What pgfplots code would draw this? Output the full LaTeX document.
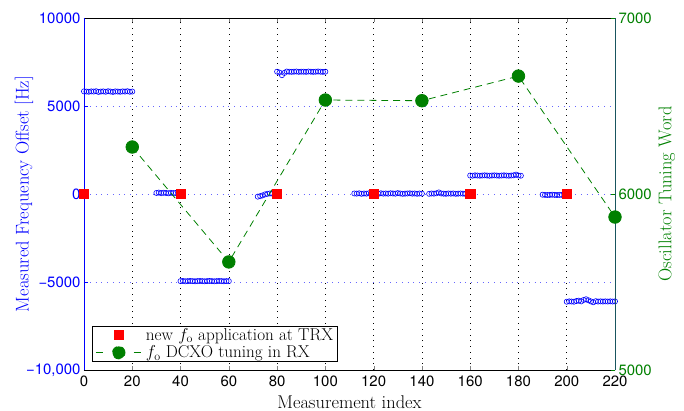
\documentclass[border=0pt]{standalone}
\usepackage{fontspec}
\newfontfamily\hel{TeX Gyre Heros}
\usepackage{pgfplots}
\pgfplotsset{compat=1.18}
\usetikzlibrary{calc}
\definecolor{mblue}{RGB}{0,0,255}
\definecolor{mgreen}{RGB}{0,128,0}
\definecolor{mred}{RGB}{255,0,0}
\definecolor{raxis}{RGB}{25,85,95}

% measured offsets (Hz), one row per measurement
\pgfplotstableread{
x y
0 5830
1 5820
2 5810
3 5830
4 5820
5 5840
6 5800
7 5820
8 5830
9 5810
10 5840
11 5820
12 5800
13 5830
14 5820
15 5810
16 5830
17 5820
18 5840
19 5810
20 5820
30 60
31 80
32 50
33 70
34 60
35 40
36 70
37 50
38 60
40 -4950
41 -4940
42 -4960
43 -4950
44 -4940
45 -4950
46 -4960
47 -4950
48 -4940
49 -4950
50 -4960
51 -4950
52 -4940
53 -4950
54 -4960
55 -4950
56 -4940
57 -4950
58 -4960
59 -4950
60 -4950
72 -150
73 -120
74 -80
75 -20
76 10
77 30
78 20
80 6950
81 6900
82 6750
83 6880
84 6960
85 6950
86 6940
87 6950
88 6960
89 6940
90 6950
91 6950
92 6940
93 6960
94 6950
95 6940
96 6950
97 6960
98 6950
99 6940
100 6950
112 30
113 20
114 40
115 10
116 30
117 20
118 40
119 30
120 20
121 30
122 10
123 40
124 20
125 30
126 20
127 40
128 30
129 20
130 50
131 30
132 10
133 20
134 30
135 40
136 20
137 30
138 10
139 30
140 20
143 10
144 30
145 20
146 40
147 90
148 30
149 20
150 10
151 30
152 20
153 30
154 10
155 20
156 30
157 20
158 10
160 1050
161 1040
162 1060
163 1050
164 1040
165 1050
166 1060
167 1050
168 1040
169 1050
170 1060
171 1050
172 1040
173 1050
174 1060
175 1050
176 1040
177 1050
178 1060
179 1100
180 1050
181 1040
190 -40
191 -50
192 -60
193 -50
194 -40
195 -50
196 -60
197 -50
198 -50
200 -6120
201 -6100
202 -6110
203 -6120
204 -6080
205 -6060
206 -6100
207 -6020
208 -5980
209 -6040
210 -6100
211 -6150
212 -6090
213 -6110
214 -6100
215 -6110
216 -6100
217 -6110
218 -6100
219 -6110
220 -6100
}\offsets

\begin{document}
\begin{tikzpicture}
\begin{axis}[
  name=main,
  scale only axis, width=531bp, height=352bp,
  xmin=0, xmax=220, ymin=-10000, ymax=10000,
  axis y line*=left,
  scaled y ticks=false,
  xtick={0,20,...,220},
  ytick={-10000,-5000,0,5000,10000},
  yticklabels={{−10,000},{−5000},0,5000,10000},
  /pgf/number format/assume math mode=true,
  tick label style={font=\fontsize{15}{17}\hel},
  xticklabel style={yshift=-2pt},
  yticklabel style={text=mblue},
  tick align=inside, major tick length=4bp,
  y axis line style={draw=mblue, line width=1pt},
  ytick style={draw=mblue},
  x axis line style={line width=0.8pt},
  xmajorgrids, ymajorgrids,
  x grid style={black, line width=0.6pt, dash pattern=on 0.8pt off 5pt},
  y grid style={mblue!60, line width=0.8pt, dash pattern=on 0.8pt off 5pt},
  xlabel={Measurement index},
  ylabel={Measured Frequency Offset [Hz]},
  label style={font=\fontsize{18.5}{22}\selectfont},
  xlabel style={yshift=-3pt},
  ylabel style={text=mblue, yshift=-14pt},
  clip=false,
]
\addplot[only marks, mark=o, mark size=2.6pt, mblue, line width=0.6pt] table {\offsets};
\addplot[only marks, mark=square*, mark size=4.6pt, mred] coordinates {
  (0,0) (40,0) (80,0) (120,0) (160,0) (200,0)
};
\end{axis}
\begin{axis}[
  scale only axis, width=531bp, height=352bp,
  xmin=0, xmax=220, ymin=5000, ymax=7000,
  axis x line=none,
  axis y line*=right,
  scaled y ticks=false,
  ytick={5000,6000,7000},
  yticklabels={5000,6000,7000},
  tick label style={font=\fontsize{15}{17}\hel},
  yticklabel style={text=mgreen},
  tick align=inside, major tick length=4bp,
  y axis line style={draw=raxis, line width=1pt},
  ytick style={draw=mgreen},
  ylabel={Oscillator Tuning Word},
  label style={font=\fontsize{18.5}{22}\selectfont},
  ylabel style={text=mgreen},
  legend style={at={(0.015,0.022)}, anchor=south west, draw=black, line width=0.8pt,
    font=\fontsize{17.2}{19}\selectfont, inner xsep=3pt, inner ysep=1.5pt, row sep=2pt,
    nodes={inner sep=1pt}},
  legend cell align=left,
  clip=false,
]
\addlegendimage{legend image code/.code={
  \fill[mred] (22.5pt,-4.6pt) rectangle (31.7pt,4.6pt);
  \path (52pt,0);}}
\addlegendentry{new $f_\mathrm{o}$ application at TRX}
\addplot[mgreen, line width=0.8pt, dash pattern=on 7pt off 5pt,
  mark=*, mark size=6.3pt, mark options={solid},
  legend image code/.code={
    \draw[mgreen, line width=0.8pt] (4pt,0) -- (12pt,0);
    \draw[mgreen, line width=0.8pt] (42pt,0) -- (50pt,0);
    \fill[mgreen] (27.1pt,0) circle (6.3pt);
    \path (53pt,0);}] coordinates {
  (20,6267) (60,5614) (100,6534) (140,6530) (180,6670) (220,5869)
};
\addlegendentry{$f_\mathrm{o}$ DCXO tuning in RX}
\end{axis}
\pgfresetboundingbox
\path[use as bounding box] ($(main.south west)+(-84bp,-41bp)$) rectangle ($(main.north east)+(69bp,18bp)$);
\end{tikzpicture}
\end{document}
